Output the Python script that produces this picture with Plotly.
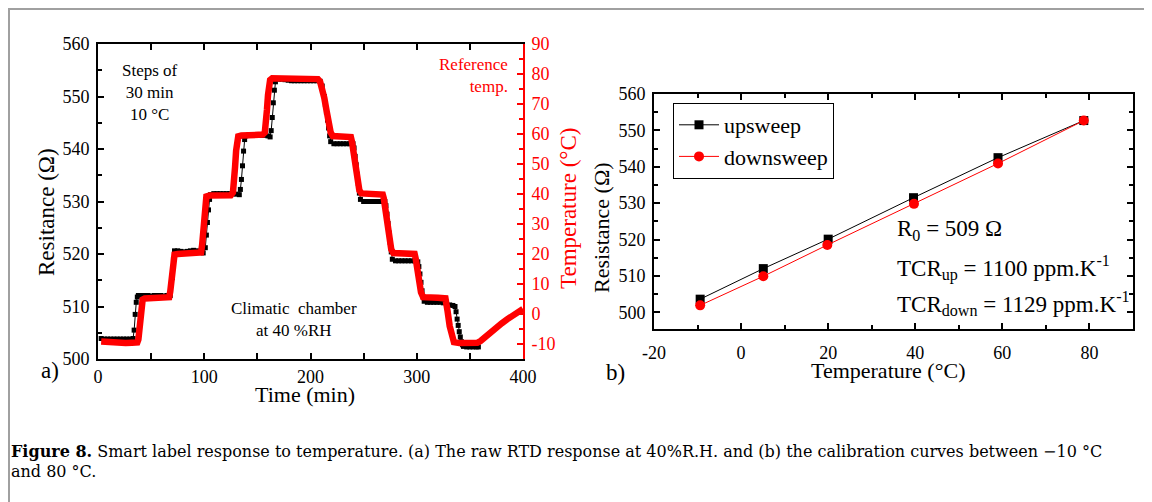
import plotly.graph_objects as go

W, H = 1152, 502
FONT = "Liberation Serif"
OFF = 8  # page body margin offset of the rendered figure

# ---------------- Panel (a): raw RTD response ----------------
time_res = [3, 6, 9, 12, 15, 18, 21, 24, 27, 30, 33,
            34, 35, 36, 37, 38,
            41, 44, 47, 50, 53, 56, 59, 62, 65, 68,
            70, 71, 72,
            75, 78, 81, 84, 87, 90, 93, 96, 99,
            101, 102, 103, 104, 105, 106,
            109, 112, 115, 118, 121, 124, 127, 130, 133,
            134, 135, 136, 137, 138, 139,
            142, 145, 148, 151, 154, 157, 160, 162,
            163, 164, 165, 166, 167,
            170, 173, 176, 179, 182, 185, 188, 191, 194, 197, 200, 203, 206, 209,
            211, 213, 214, 215, 216, 217, 218, 219,
            222, 225, 228, 231, 234, 237, 240,
            241, 242, 243, 244, 245, 246, 247,
            250, 253, 256, 259, 262, 265, 268, 270,
            271, 272, 273, 274, 275, 276, 277,
            280, 283, 286, 289, 292, 295, 298, 301,
            302, 303, 304, 305, 306, 307,
            310, 313, 316, 319, 322, 325, 328, 331, 334, 336,
            337, 338, 339, 340, 341, 342, 343, 344,
            347, 350, 353, 356, 358]
resistance = [503.9, 503.8, 503.8, 503.8, 503.8, 503.8, 503.8, 503.8, 503.8, 503.8, 503.9,
              505.5, 508.5, 510.8, 511.8, 512.1,
              512.1, 512.1, 512.1, 512.0, 512.1, 512.1, 512.1, 512.0, 512.1, 512.1,
              515.5, 519.0, 520.6,
              520.6, 520.5, 520.4, 520.5, 520.6, 520.7, 520.6, 520.5, 520.2,
              521.2, 523.6, 526.0, 528.4, 530.4, 531.3,
              531.5, 531.5, 531.5, 531.5, 531.5, 531.5, 531.5, 531.4, 531.3,
              532.3, 534.2, 536.8, 539.6, 541.8, 542.5,
              542.7, 542.7, 542.7, 542.7, 542.6, 542.6, 542.5, 542.3,
              543.5, 546.0, 548.8, 551.2, 552.8,
              553.3, 553.3, 553.2, 553.1, 553.0, 553.0, 553.0, 553.0, 553.0, 553.0, 553.0, 553.0, 553.0, 552.9,
              552.0, 550.0, 548.5, 547.0, 545.5, 544.0, 542.5, 541.4,
              541.0, 541.0, 541.0, 541.0, 541.0, 541.0, 541.0,
              540.2, 538.6, 537.0, 535.2, 533.4, 531.6, 530.4,
              530.0, 530.0, 530.0, 530.0, 530.0, 530.0, 530.0, 530.0,
              529.2, 527.6, 525.8, 524.0, 522.2, 520.4, 519.0,
              518.7, 518.7, 518.7, 518.7, 518.7, 518.7, 518.7, 518.5,
              517.6, 516.2, 514.6, 513.0, 511.8, 511.0,
              510.8, 510.8, 510.8, 510.8, 510.8, 510.7, 510.5, 510.3, 510.2, 510.0,
              509.0, 507.6, 506.4, 505.2, 504.2, 503.3, 502.7, 502.4,
              502.3, 502.3, 502.3, 502.3, 502.3]

time_temp = [3, 8, 14, 20, 26, 32, 37, 38, 39, 40, 41, 42, 44, 50, 56, 62, 67,
             68, 69, 70, 71, 72, 75, 85, 95, 97,
             98, 99, 100, 101, 102, 105, 115, 125, 127,
             128, 129, 130, 131, 132, 135, 145, 155, 157,
             158, 159, 160, 161, 162, 164, 170, 180, 190, 200, 207,
             209, 211, 213, 215, 217, 219, 221, 225, 235, 238,
             239, 240, 242, 244, 246, 248, 255, 265, 268,
             269, 270, 272, 274, 276, 278, 285, 295, 298,
             299, 300, 302, 304, 306, 310, 320, 327,
             328, 329, 331, 333, 335, 340, 350, 357,
             360, 365, 370, 375, 380, 385, 390, 395, 400]
temperature = [-9.2, -9.4, -9.6, -9.7, -9.7, -9.6, -9.5, -8.5, -4.5, 0.5, 3.5, 4.8, 5.2, 5.2, 5.2, 5.3, 5.6,
               7.5, 12.0, 16.5, 19.0, 19.8, 20.0, 20.0, 20.1, 20.5,
               23.0, 29.0, 34.5, 38.0, 39.2, 39.5, 39.5, 39.6, 40.5,
               43.0, 49.0, 54.5, 58.0, 59.2, 59.5, 59.6, 59.8, 60.5,
               63.0, 68.0, 73.0, 76.5, 78.0, 78.6, 78.6, 78.5, 78.4, 78.4, 78.3,
               77.5, 75.5, 72.0, 68.0, 64.0, 60.5, 59.3, 59.3, 59.3, 59.0,
               57.5, 55.0, 50.0, 45.0, 41.2, 40.2, 40.0, 40.0, 39.8,
               38.5, 35.5, 30.5, 25.5, 21.5, 20.3, 20.2, 20.2, 20.0,
               18.5, 16.0, 11.0, 7.2, 5.6, 5.4, 5.4, 5.2,
               4.0, 1.0, -4.0, -7.8, -9.4, -9.7, -9.7, -9.6,
               -9.0, -7.4, -5.8, -4.4, -3.1, -1.8, -0.6, 0.6, 1.7]

# ---------------- Panel (b): calibration curves ----------------
up_temp = [-9.4, 5.1, 20.0, 39.6, 59.0, 78.7]
up_res = [503.6, 512.0, 520.1, 531.5, 542.5, 552.7]
down_temp = [-9.4, 5.1, 19.8, 39.7, 59.0, 78.7]
down_res = [501.9, 509.9, 518.5, 529.8, 540.9, 552.7]

x_ticks_a = [0, 100, 200, 300, 400]
res_ticks = [500, 510, 520, 530, 540, 550, 560]
temp_ticks = [-10, 0, 10, 20, 30, 40, 50, 60, 70, 80, 90]
x_ticks_b = [-20, 0, 20, 40, 60, 80]


def px(x):
    return (x - OFF) / W


def py(y):
    return 1 - (y - OFF) / H


fig = go.Figure()

fig.add_trace(go.Scatter(x=time_res, y=resistance, xaxis="x", yaxis="y",
                         mode="lines+markers", showlegend=False,
                         line=dict(color="black", width=1),
                         marker=dict(symbol="square", size=5, color="black")))
fig.add_trace(go.Scatter(x=time_temp, y=temperature, xaxis="x", yaxis="y2",
                         mode="lines", showlegend=False,
                         line=dict(color="#ff0000", width=6.5)))
fig.add_trace(go.Scatter(x=up_temp, y=up_res, xaxis="x2", yaxis="y3",
                         mode="lines+markers", name="upsweep",
                         line=dict(color="black", width=1),
                         marker=dict(symbol="square", size=9, color="black")))
fig.add_trace(go.Scatter(x=down_temp, y=down_res, xaxis="x2", yaxis="y3",
                         mode="lines+markers", name="downsweep",
                         line=dict(color="#ff0000", width=1),
                         marker=dict(symbol="circle", size=10, color="#ff0000")))

tickfont = dict(family=FONT, size=18, color="black")
common = dict(showgrid=False, zeroline=False, showline=True, linewidth=2,
              linecolor="black", ticks="inside", tickcolor="black",
              tickwidth=1.5, tickfont=tickfont, automargin=False)


def labels(vals):
    return [str(v) for v in vals]


fig.update_layout(
    width=W, height=H, autosize=False,
    margin=dict(l=0, r=0, t=0, b=0, pad=0, autoexpand=False),
    paper_bgcolor="white", plot_bgcolor="white",
    font=dict(family=FONT, color="black"),
    xaxis=dict(domain=[px(98), px(523)], anchor="y", range=[0, 400],
               tickvals=x_ticks_a, ticktext=labels(x_ticks_a), ticklen=6, mirror="ticks",
               minor=dict(dtick=50, ticks="inside", ticklen=6, tickcolor="black"),
               ticklabelstandoff=0, **common),
    yaxis=dict(domain=[py(359), py(44)], anchor="x", range=[500, 560],
               tickvals=res_ticks, ticktext=labels(res_ticks), ticklen=6, mirror=False,
               minor=dict(dtick=5, ticks="inside", ticklen=4, tickcolor="black"),
               ticklabelstandoff=3, **common),
    yaxis2=dict(overlaying="y", side="right", anchor="x", range=[-15, 90],
                tickvals=temp_ticks, ticktext=labels(temp_ticks),
                showgrid=False, zeroline=False, showline=True, automargin=False,
                linewidth=2, linecolor="#ff0000", ticks="inside", ticklen=6,
                tickcolor="#ff0000", tickwidth=1.5,
                minor=dict(dtick=5, ticks="inside", ticklen=4, tickcolor="#ff0000"),
                tickfont=dict(family=FONT, size=18, color="#ff0000"),
                ticklabelstandoff=3),
    xaxis2=dict(domain=[px(654), px(1133)], anchor="y3", range=[-20, 90],
                tickvals=x_ticks_b, ticktext=labels(x_ticks_b), ticklen=6, mirror="ticks",
                minor=dict(dtick=10, ticks="inside", ticklen=4, tickcolor="black"),
                ticklabelstandoff=6, **common),
    yaxis3=dict(domain=[py(329), py(94)], anchor="x2", range=[495.4, 560],
                tickvals=res_ticks, ticktext=labels(res_ticks), ticklen=6, mirror="ticks",
                minor=dict(dtick=5, ticks="inside", ticklen=4, tickcolor="black"),
                ticklabelstandoff=3, **common),
    legend=dict(x=px(673), y=py(103), xanchor="left", yanchor="top",
                bordercolor="black", borderwidth=1, bgcolor="white",
                font=dict(family=FONT, size=22, color="black"),
                tracegroupgap=0, itemwidth=40),
)

ann = []


def text(x, y, s, size=22, color="black", angle=0, xanchor="center", align="center", family=FONT):
    ann.append(dict(x=px(x), y=py(y), xref="paper", yref="paper", text=s,
                    showarrow=False, textangle=angle, xanchor=xanchor,
                    yanchor="middle", align=align,
                    font=dict(family=family, size=size, color=color)))


# Panel (a) labels
text(46, 212, "Resitance (Ω)", size=23, angle=-90)
text(305, 394, "Time (min)", size=22)
text(568, 209, "Temperature (°C)", size=23, color="#ff0000", angle=-90)
text(50, 370, "a)", size=23)
text(150, 93, "Steps of<br>30 min<br>10 °C", size=17)
text(510, 75, "Reference<br>temp.", size=17, color="#ff0000", xanchor="right", align="right")
text(294, 319, "Climatic  chamber<br>at 40 %RH", size=17)

# Panel (b) labels
text(601, 228, "Resistance (Ω)", size=22, angle=-90)
text(888, 370, "Temperature (°C)", size=22)
text(615, 372, "b)", size=23)
text(895, 230, "R<sub>0</sub> = 509 Ω", size=23, xanchor="left", align="left")
text(895, 268, "TCR<sub>up</sub> = 1100 ppm.K<sup>-1</sup>", size=23, xanchor="left", align="left")
text(895, 303, "TCR<sub>down</sub> = 1129 ppm.K<sup>-1</sup>", size=23, xanchor="left", align="left")

# Caption
CAP = "DejaVu Serif"
text(9, 451, "<b>Figure 8.</b> Smart label response to temperature. (a) The raw RTD response at 40%R.H. "
     "and (b) the calibration curves between −10 °C", size=16, xanchor="left", align="left", family=CAP)
text(9, 471, "and 80 °C.", size=16, xanchor="left", align="left", family=CAP)

fig.update_layout(annotations=ann)

# page frame
fig.update_layout(shapes=[
    dict(type="line", xref="paper", yref="paper", x0=px(8) + 1 / W, x1=px(8) + 1 / W, y0=0, y1=py(8) - 1 / H,
         line=dict(color="#a0a0a0", width=2)),
    dict(type="line", xref="paper", yref="paper", x0=px(8), x1=px(1144), y0=py(8) - 1 / H, y1=py(8) - 1 / H,
         line=dict(color="#a0a0a0", width=2)),
])

fig.write_html("out.html")
